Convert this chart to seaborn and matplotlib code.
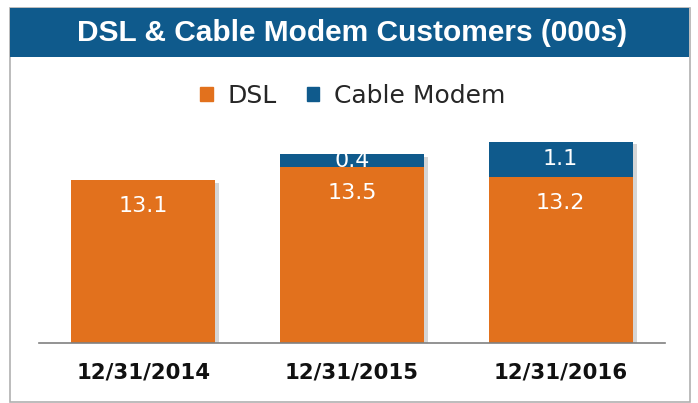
import matplotlib
matplotlib.use("Agg")
import matplotlib.pyplot as plt
import matplotlib.patches as mpatches
import matplotlib.patheffects as pe
import seaborn as sns
import pandas as pd

# data
dates = ["12/31/2014", "12/31/2015", "12/31/2016"]
dsl = [13.1, 13.5, 13.2]
cable = [0.0, 0.4, 1.1]

orange = "#E2711D"
blue = "#0F5A8C"

sns.set_style("white")
plt.rcParams["font.family"] = ["DejaVu Sans"]

df = pd.DataFrame({"date": dates, "dsl": dsl, "cable": cable})
df["total"] = df["dsl"] + df["cable"]

W, H = 698, 403
fig = plt.figure(figsize=(W / 100, H / 100), dpi=100)

# outer frame and title bar
fig.patches.append(mpatches.Rectangle((10 / W, 1 / H), 680 / W, 394 / H, transform=fig.transFigure,
                                      facecolor="white", edgecolor="#b0b0b0", linewidth=1.2, zorder=-2))
fig.patches.append(mpatches.Rectangle((10 / W, 1 - 57 / H), 679 / W, 49 / H, transform=fig.transFigure,
                                      facecolor=blue, edgecolor="none", zorder=1))
fig.text(352 / W, 1 - 33 / H, "DSL & Cable Modem Customers (000s)", color="white",
         fontsize=21.5, fontweight="bold", family="Liberation Sans", ha="center", va="center")

ax = fig.add_axes([39 / W, 1 - 343 / H, 626 / W, 213 / H])
ax.set_facecolor("none")

# stacked bars: total in blue, DSL on top in orange (value axis starts at 8)
sns.barplot(data=df, x="date", y="total", color=blue, saturation=1, width=0.69, linewidth=0, ax=ax)
n_total = len(ax.patches)
sns.barplot(data=df, x="date", y="dsl", color=orange, saturation=1, width=0.69, linewidth=0, ax=ax)

# soft shadow on the right side of each stack
for p in ax.patches[:n_total]:
    p.set_path_effects([pe.SimplePatchShadow(offset=(3, -2), shadow_rgbFace="#888888", alpha=0.35),
                        pe.Normal()])

for i, row in df.iterrows():
    ax.text(i, row["dsl"] - 0.82, f"{row['dsl']:.1f}", color="white", fontsize=16,
            ha="center", va="center")
    if row["cable"] > 0:
        ax.text(i, row["dsl"] + row["cable"] / 2, f"{row['cable']:.1f}", color="white",
                fontsize=16, ha="center", va="center")

ax.set_xlim(-0.5, 2.5)
ax.set_ylim(8, 14.66)
ax.set_xlabel("")
ax.set_ylabel("")
ax.set_yticks([])
for s in ["top", "right", "left"]:
    ax.spines[s].set_visible(False)
ax.spines["bottom"].set_color("#808080")
ax.spines["bottom"].set_linewidth(1.2)
ax.spines["bottom"].set_zorder(5)
ax.tick_params(axis="x", length=0, pad=14)
for lbl in ax.get_xticklabels():
    lbl.set_fontweight("bold")
    lbl.set_fontsize(15.3)
    lbl.set_color("#111111")

handles = [mpatches.Patch(color=orange, label="DSL"), mpatches.Patch(color=blue, label="Cable Modem")]
fig.legend(handles=handles, loc="center", bbox_to_anchor=(353 / W, 1 - 96 / H), ncol=2,
           frameon=False, fontsize=18, handlelength=0.5, handleheight=0.5, handletextpad=0.6,
           columnspacing=1.2)

fig.savefig("out.png", dpi=100)
